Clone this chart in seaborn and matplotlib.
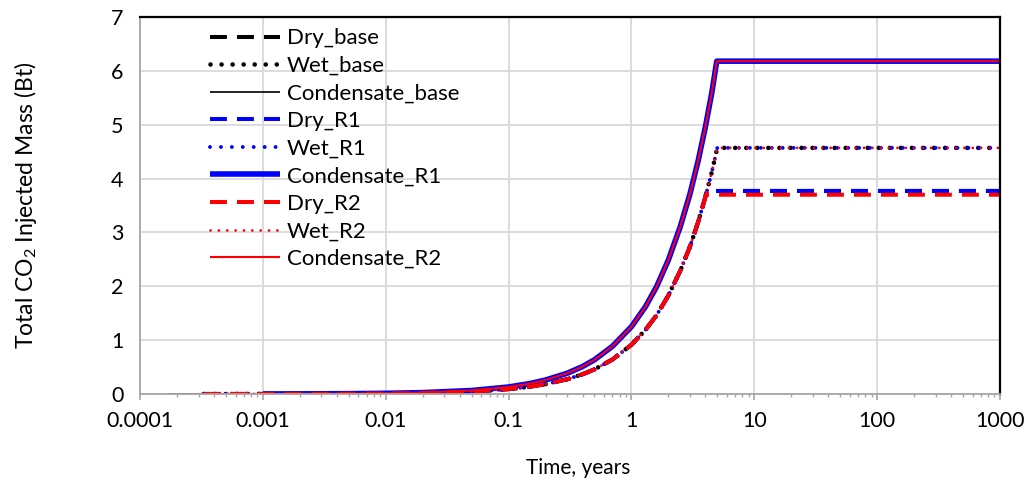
import matplotlib
matplotlib.use("Agg")
import matplotlib.pyplot as plt
import seaborn as sns
import pandas as pd

# ---- data ----
time_cond = [0.00017, 0.0003, 0.0005, 0.001, 0.002, 0.005, 0.01, 0.02, 0.05, 0.1, 0.15, 0.2,
             0.3, 0.4, 0.5, 0.7, 1.0, 1.3, 1.6, 2.0, 2.5, 3.0, 3.5, 4.0, 4.5, 4.95, 10, 100, 1000]
mass_cond = [0.0002, 0.0004, 0.0006, 0.0013, 0.0026, 0.0065, 0.013, 0.026, 0.065, 0.13, 0.195, 0.26,
             0.385, 0.51, 0.635, 0.885, 1.25, 1.62, 1.99, 2.49, 3.11, 3.72, 4.34, 4.96, 5.58, 6.18,
             6.18, 6.18, 6.18]

time_wet = [0.00033, 0.0005, 0.001, 0.002, 0.005, 0.01, 0.02, 0.05, 0.1, 0.15, 0.2, 0.3, 0.4,
            0.5, 0.7, 1.0, 1.3, 1.6, 2.0, 2.5, 3.0, 3.5, 4.0, 4.5, 5.0, 10, 100, 1000]
mass_wet = [0.0003, 0.0005, 0.0009, 0.0018, 0.0046, 0.009, 0.018, 0.046, 0.091, 0.137, 0.183,
            0.274, 0.366, 0.457, 0.64, 0.914, 1.19, 1.46, 1.83, 2.29, 2.74, 3.20, 3.66, 4.11,
            4.57, 4.57, 4.57, 4.57]

time_dry = [0.00033, 0.0005, 0.001, 0.002, 0.005, 0.01, 0.02, 0.05, 0.1, 0.15, 0.2, 0.3, 0.4,
            0.5, 0.7, 1.0, 1.3, 1.6, 2.0, 2.5, 3.0, 3.5, 4.0, 4.12, 10, 100, 1000]
mass_dry = [0.0003, 0.0005, 0.0009, 0.0018, 0.0046, 0.009, 0.018, 0.046, 0.091, 0.137, 0.183,
            0.274, 0.366, 0.457, 0.64, 0.914, 1.19, 1.46, 1.83, 2.29, 2.74, 3.20, 3.66, 3.77,
            3.77, 3.77, 3.77]

time_dry_r2 = [0.00033, 0.0005, 0.001, 0.002, 0.005, 0.01, 0.02, 0.05, 0.1, 0.15, 0.2, 0.3, 0.4,
               0.5, 0.7, 1.0, 1.3, 1.6, 2.0, 2.5, 3.0, 3.5, 4.05, 10, 100, 1000]
mass_dry_r2 = [0.0003, 0.0005, 0.0009, 0.0018, 0.0046, 0.009, 0.018, 0.046, 0.091, 0.137, 0.183,
               0.274, 0.366, 0.457, 0.64, 0.914, 1.19, 1.46, 1.83, 2.29, 2.74, 3.20, 3.70,
               3.70, 3.70, 3.70]

x_ticks = [0.0001, 0.001, 0.01, 0.1, 1, 10, 100, 1000]
x_tick_labels = ["0.0001", "0.001", "0.01", "0.1", "1", "10", "100", "1000"]
y_ticks = [0, 1, 2, 3, 4, 5, 6, 7]

sns.set_theme(style="white")
FONT = "Lato"
plt.rcParams["font.family"] = [FONT, "DejaVu Sans"]
plt.rcParams["mathtext.fontset"] = "custom"
plt.rcParams["mathtext.rm"] = FONT
plt.rcParams["mathtext.it"] = FONT

fig = plt.figure(figsize=(10.31, 4.83), dpi=100)
ax = fig.add_axes([140 / 1031, 1 - 394 / 483, 860 / 1031, 377 / 483])

DASH = (4.2, 2.5)
series = [
    ("Dry_base", time_dry, mass_dry, "black", dict(lw=2.9, dashes=DASH)),
    ("Wet_base", time_wet, mass_wet, "black", dict(lw=3.3, ls=(0, (0.01, 2.4)))),
    ("Condensate_base", time_cond, mass_cond, "black", dict(lw=1.2)),
    ("Dry_R1", time_dry, mass_dry, "#0000ff", dict(lw=2.9, dashes=DASH)),
    ("Wet_R1", time_wet, mass_wet, "#0000ff", dict(lw=2.8, ls=(0, (0.01, 2.8)))),
    ("Condensate_R1", time_cond[3:], mass_cond[3:], "#0000ff", dict(lw=4.0)),
    ("Dry_R2", time_dry_r2, mass_dry_r2, "#ff0000", dict(lw=2.9, dashes=DASH)),
    ("Wet_R2", time_wet, mass_wet, "#ff0000", dict(lw=2.0, ls=(0, (0.01, 3.0)))),
    ("Condensate_R2", time_cond[1:], mass_cond[1:], "#ff0000", dict(lw=1.5)),
]

for name, t, m, col, st in series:
    df = pd.DataFrame({"t": t, "m": m})
    kw = dict(st)
    ls = kw.pop("ls", "-")
    dashes = kw.pop("dashes", None)
    line = sns.lineplot(data=df, x="t", y="m", ax=ax, color=col, label=name,
                        linewidth=kw["lw"], estimator=None, sort=False).lines[-1]
    if dashes is not None:
        line.set_dashes(dashes)
    else:
        line.set_linestyle(ls)
    line.set_dash_capstyle("round" if isinstance(ls, tuple) else "butt")
    line.set_solid_capstyle("butt")

ax.set_xscale("log")
ax.set_xlim(0.0001, 1000)
ax.set_ylim(0, 7)
ax.set_xticks(x_ticks)
ax.set_xticklabels(x_tick_labels)
ax.set_yticks(y_ticks)
ax.grid(True, which="major", color="#d9d9d9", linewidth=1.3)
ax.set_axisbelow(True)

for s in ["left", "bottom"]:
    ax.spines[s].set_color("#a6a6a6")
    ax.spines[s].set_linewidth(1.3)
for s in ["top", "right"]:
    ax.spines[s].set_color("black")
    ax.spines[s].set_linewidth(1.6)

ax.tick_params(axis="x", which="major", direction="out", length=4, width=1.2,
               color="#a6a6a6", labelsize=15.5, pad=8, bottom=True)
ax.tick_params(axis="x", which="minor", direction="out", length=2.5, width=1.0,
               color="#a6a6a6", bottom=True)
ax.tick_params(axis="y", which="both", length=0, labelsize=15.5, pad=12)
for lab in ax.get_xticklabels() + ax.get_yticklabels():
    lab.set_color("black")

ax.set_xlabel("Time, years", fontsize=15, color="black")
ax.xaxis.set_label_coords(0.509, -0.17)
ax.set_ylabel("Total CO$_2$ Injected Mass (Bt)", fontsize=16.5, color="black", labelpad=52)

leg = ax.legend(loc="upper left", bbox_to_anchor=(0.066, 1.005), frameon=False, fontsize=16,
                handlelength=3.15, handletextpad=0.3, labelspacing=0.34, borderaxespad=0.2)
for txt in leg.get_texts():
    txt.set_color("black")

fig.savefig("out.png", dpi=100)
